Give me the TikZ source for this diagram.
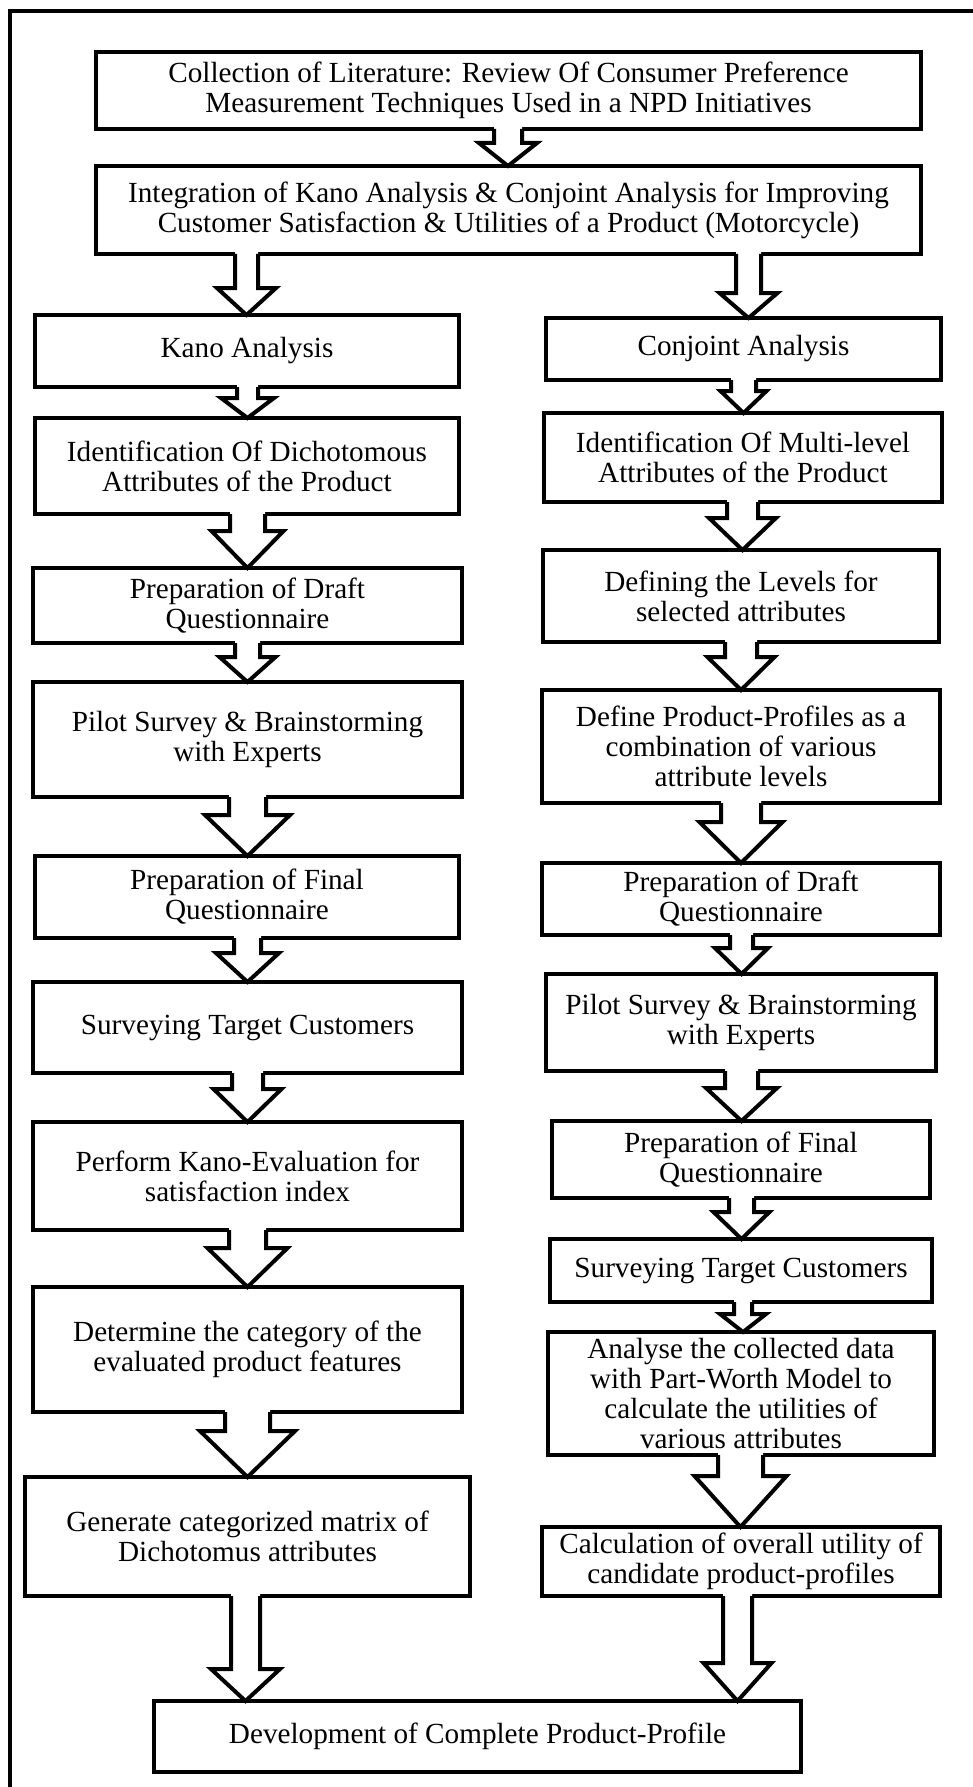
\documentclass[tikz,border=0pt]{standalone}
\usepackage{fontspec}
\setmainfont{Liberation Serif}
\usetikzlibrary{calc}
\tikzset{
  box/.style={draw=black, line width=4.5pt, fill=white, rectangle, align=center, inner sep=0pt, outer sep=0pt,
    font=\fontsize{29.2}{30}\selectfont},
  arrline/.style={draw=black, line width=4pt, line join=miter},
  frameline/.style={draw=black, line width=4pt}
}
\newcommand\blockarrow[6]{%
  \fill[white] let \p1=(#1.south), \p2=(#2.north) in
    (#3pt-#4pt,\y1+2.2pt) -- (#3pt-#4pt,-#6pt) -- (#3pt-#5pt,-#6pt) -- (#3pt,\y2) --
    (#3pt+#5pt,-#6pt) -- (#3pt+#4pt,-#6pt) -- (#3pt+#4pt,\y1+2.2pt) -- cycle;
  \draw[arrline] let \p1=(#1.south), \p2=(#2.north) in
    (#3pt-#4pt,\y1) -- (#3pt-#4pt,-#6pt) -- (#3pt-#5pt,-#6pt) -- (#3pt,\y2) --
    (#3pt+#5pt,-#6pt) -- (#3pt+#4pt,-#6pt) -- (#3pt+#4pt,\y1);
}
\newcommand\bx[7]{% name, cx, cy, w, h, text
  \node[box, minimum width=#4pt, minimum height=#5pt] (#1) at (#2pt,-#3pt) {#6};
}
\begin{document}
\begin{tikzpicture}[x=1pt,y=1pt]
\useasboundingbox (0,0) rectangle (972,-1787);
\fill[white] (0,0) rectangle (972,-1787);
\draw[frameline] (10,-11) rectangle (1000,-1820);

\bx{lit}{508.5}{90.5}{825}{77}{Collection of Literature: Review Of Consumer Preference\\Measurement Techniques Used in a NPD Initiatives}{}
\bx{integ}{508.5}{210}{825}{88}{Integration of Kano Analysis \& Conjoint Analysis for Improving\\Customer Satisfaction \& Utilities of a Product (Motorcycle)}{}

\bx{kano}{247}{351}{424}{72}{Kano Analysis}{}
\bx{identD}{247}{466}{424}{96}{Identification Of Dichotomous\\Attributes of the Product}{}
\bx{draftL}{247.5}{605.5}{429}{75}{Preparation of Draft\\Questionnaire}{}
\bx{pilotL}{247.5}{739.5}{429}{115}{Pilot Survey \& Brainstorming\\with Experts}{}
\bx{finalL}{247}{897}{424}{82}{Preparation of Final\\Questionnaire}{}
\bx{survL}{247.5}{1027.5}{429}{91}{Surveying Target Customers}{}
\bx{perfK}{247.5}{1176}{429}{108}{Perform Kano-Evaluation for\\satisfaction index}{}
\bx{determ}{247.5}{1349.5}{429}{125}{Determine the category of the\\evaluated product features}{}
\bx{gener}{247.5}{1536.5}{445}{119}{Generate categorized matrix of\\Dichotomus attributes}{}

\bx{conj}{743.5}{349}{395}{62}{Conjoint Analysis}{}
\bx{identM}{743}{457.5}{398}{89}{Identification Of Multi-level\\Attributes of the Product}{}
\bx{levels}{741}{596}{396}{92}{Defining the Levels for\\selected attributes}{}
\bx{profiles}{741}{746.5}{398}{113}{Define Product-Profiles as a\\combination of various\\attribute levels}{}
\bx{draftR}{741}{899}{398}{72}{Preparation of Draft\\Questionnaire}{}
\bx{pilotR}{741}{1022.5}{390}{97}{Pilot Survey \& Brainstorming\\with Experts}{}
\bx{finalR}{741}{1159.5}{378}{77}{Preparation of Final\\Questionnaire}{}
\bx{survR}{741}{1270.5}{382}{63}{Surveying Target Customers}{}
\bx{analyse}{741}{1393.5}{386}{123}{Analyse the collected data\\with Part-Worth Model to\\calculate the utilities of\\various attributes}{}
\bx{calc}{741}{1561.5}{398}{69}{Calculation of overall utility of\\candidate product-profiles}{}

\bx{dev}{477.5}{1736.5}{647}{71}{Development of Complete Product-Profile}{}

\blockarrow{lit}{integ}{508}{14}{29}{143}
\blockarrow{integ}{kano}{246.5}{11.5}{29.5}{288}
\blockarrow{integ}{conj}{748.5}{12.5}{29}{293}

\blockarrow{kano}{identD}{247.5}{10.5}{26.5}{398}
\blockarrow{identD}{draftL}{247.5}{17.5}{36}{531}
\blockarrow{draftL}{pilotL}{247.5}{12.5}{28}{657}
\blockarrow{pilotL}{finalL}{247.5}{18.5}{42.5}{815}
\blockarrow{finalL}{survL}{247.5}{13.5}{31.5}{953}
\blockarrow{survL}{perfK}{247.5}{15.5}{34}{1089}
\blockarrow{perfK}{determ}{247.5}{18.5}{40}{1248}
\blockarrow{determ}{gener}{247.5}{22.5}{47.5}{1431}
\blockarrow{gener}{dev}{245.5}{14.5}{34.5}{1669}

\blockarrow{conj}{identM}{743.5}{12.5}{23}{391}
\blockarrow{identM}{levels}{742.5}{15.5}{33.5}{518}
\blockarrow{levels}{profiles}{741}{16}{33.5}{657}
\blockarrow{profiles}{draftR}{741}{20}{41.5}{822}
\blockarrow{draftR}{pilotR}{741.5}{11.5}{26.5}{948}
\blockarrow{pilotR}{finalR}{741.5}{16.5}{35.5}{1088}
\blockarrow{finalR}{survR}{741.5}{12.5}{28}{1212}
\blockarrow{survR}{analyse}{743}{9}{23}{1314}
\blockarrow{analyse}{calc}{740.5}{22.5}{46}{1476}
\blockarrow{calc}{dev}{737.5}{14.5}{34}{1663}
\end{tikzpicture}
\end{document}
